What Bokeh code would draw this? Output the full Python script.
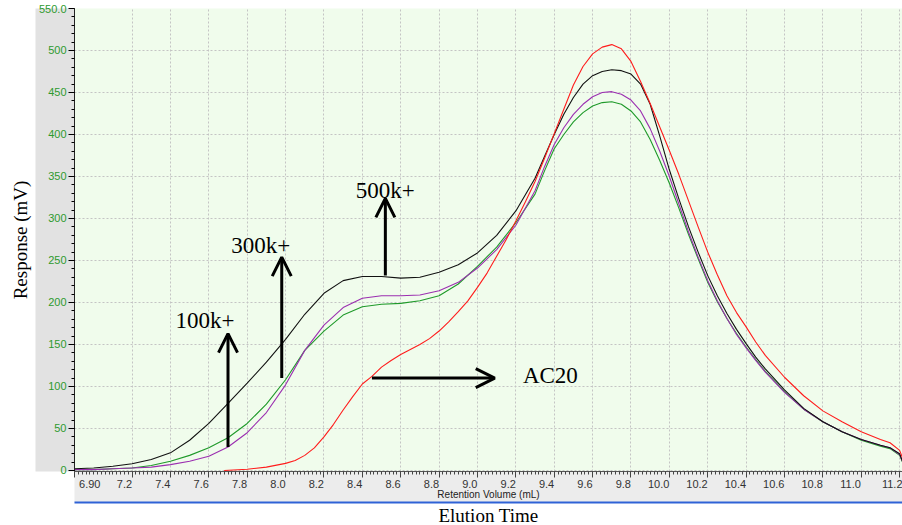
from bokeh.plotting import figure
from bokeh.models import (Range1d, FixedTicker, Arrow, OpenHead, Label, LinearAxis,
                          Title, AllLabels)
from bokeh.embed import file_html
from bokeh.resources import INLINE

# ---- chromatogram data: retention volume (mL) vs detector response (mV) ----
vol = [6.90, 7.00, 7.10, 7.20, 7.30, 7.40, 7.50, 7.60, 7.70, 7.80, 7.90, 8.00,
       8.10, 8.20, 8.30, 8.40, 8.50, 8.60, 8.70, 8.80, 8.90, 9.00, 9.10, 9.20,
       9.30, 9.35, 9.40, 9.45, 9.50, 9.55, 9.60, 9.65, 9.70, 9.75, 9.80, 9.85,
       9.90, 9.95, 10.00, 10.05, 10.10, 10.15, 10.20, 10.25, 10.30, 10.35, 10.40,
       10.45, 10.50, 10.60, 10.70, 10.80, 10.90, 11.00, 11.10, 11.15, 11.20, 11.215]

black_trace = [2, 3, 5, 8, 13, 21, 36, 56, 80, 104, 129, 156,
               186, 211, 226, 231, 231, 229, 230, 236, 245, 259, 280, 309,
               348, 374, 400, 424, 444, 460, 470, 475, 477, 476, 472, 460,
               436, 398, 358, 323, 290, 260, 232, 208, 187, 168, 151,
               135, 121, 96, 74, 58, 46, 37, 30, 27, 20, 11]

purple_trace = [1, 1, 2, 3, 4, 7, 11, 17, 28, 45, 69, 102,
                143, 173, 194, 205, 208, 208, 209, 214, 224, 241, 263, 292,
                333, 362, 388, 408, 424, 436, 445, 450, 451, 448, 441, 428,
                407, 380, 350, 317, 284, 254, 226, 202, 181, 162, 146,
                131, 117, 93, 73, 58, 46, 37, 30, 27, 19, 11]

green_trace = [1, 1, 2, 3, 6, 11, 18, 27, 39, 56, 79, 108,
               143, 166, 185, 195, 198, 199, 202, 208, 222, 243, 266, 295,
               329, 357, 383, 400, 415, 426, 434, 438, 439, 436, 428, 415,
               394, 369, 342, 312, 281, 252, 224, 201, 181, 163, 147,
               132, 118, 94, 73, 58, 46, 36, 29, 26, 18, 10]

vol_ac20 = [7.68, 7.80, 7.90, 8.00, 8.05, 8.10, 8.15, 8.20, 8.25, 8.30, 8.35,
            8.40, 8.45, 8.50, 8.55, 8.60, 8.65, 8.70, 8.75, 8.80, 8.85, 8.90,
            8.95, 9.00, 9.05, 9.10, 9.15, 9.20, 9.25, 9.30, 9.35, 9.40, 9.45,
            9.50, 9.55, 9.60, 9.65, 9.70, 9.75, 9.80, 9.85, 9.90, 9.95, 10.00,
            10.05, 10.10, 10.15, 10.20, 10.25, 10.30, 10.35, 10.40, 10.45,
            10.50, 10.60, 10.70, 10.80, 10.90, 11.00, 11.10, 11.15, 11.20, 11.215]

ac20_trace = [0, 1.5, 4, 8.5, 12, 18, 27, 40, 55, 72, 88,
              103, 112, 123, 131, 138, 144, 150, 157, 166, 177, 189,
              202, 218, 235, 255, 275, 297, 320, 344, 372, 401, 430,
              459, 481, 496, 504, 507, 502, 487, 463, 437, 409, 381,
              352, 321, 290, 260, 233, 208, 188, 171, 153,
              137, 111, 89, 71, 58, 46, 37, 33, 24, 15]

# ---- axis ticks ----
x_start_label = "6.90"
x_ticks = [7.2, 7.4, 7.6, 7.8, 8.0, 8.2, 8.4, 8.6, 8.8, 9.0, 9.2, 9.4, 9.6,
           9.8, 10.0, 10.2, 10.4, 10.6, 10.8, 11.0, 11.2]
x_tick_labels = ["7.2", "7.4", "7.6", "7.8", "8.0", "8.2", "8.4", "8.6", "8.8",
                 "9.0", "9.2", "9.4", "9.6", "9.8", "10.0", "10.2", "10.4",
                 "10.6", "10.8", "11.0", "11.2"]
y_ticks = [0, 50, 100, 150, 200, 250, 300, 350, 400, 450, 500]
y_tick_labels = ["0", "50", "100", "150", "200", "250", "300", "350", "400",
                 "450", "500"]
y_top_label = "550.0"

# ---- plot geometry ----
W, H = 902, 525
FL, FR, FT, FB = 74, 902, 8, 471          # frame edges in canvas pixels
X0, X1 = 6.90, 11.215
Y0, Y1 = -1.2, 550.0

p = figure(width=W, height=H, output_backend="svg", toolbar_location=None,
           x_range=Range1d(X0, X1), y_range=Range1d(Y0, Y1),
           min_border_left=FL, min_border_right=W - FR,
           min_border_top=FT, min_border_bottom=H - FB,
           background_fill_color="#f0fcec", border_fill_color="white")
p.outline_line_color = None

NBSP = "\u00a0"


def pad_right(s):
    # trailing blanks of the label's own width: the label ends at its tick
    return s + NBSP * sum(2 if c.isdigit() else 1 for c in s)


# x axis (retention volume)
xa = p.xaxis[0]
xa.ticker = FixedTicker(ticks=[X0] + x_ticks,
                        minor_ticks=[round(X0 + 0.02 * k, 2) for k in range(216)])
overrides = {X0: NBSP * 10 + x_start_label}
overrides.update({t: pad_right(s) for t, s in zip(x_ticks[:-1], x_tick_labels[:-1])})
overrides[x_ticks[-1]] = x_tick_labels[-1]
xa.major_label_overrides = overrides
xa.major_label_policy = AllLabels()
xa.major_label_text_font = "Liberation Sans"
xa.major_label_text_font_size = "11px"
xa.major_label_text_color = "#333333"
xa.major_label_standoff = 0
xa.major_tick_out = 6
xa.major_tick_in = 0
xa.minor_tick_out = 3
xa.minor_tick_in = 0
xa.axis_line_color = "#555555"
xa.major_tick_line_color = "#444444"
xa.minor_tick_line_color = "#444444"
xa.axis_label = "Retention Volume (mL)"
xa.axis_label_text_font = "Liberation Sans"
xa.axis_label_text_font_size = "10px"
xa.axis_label_text_font_style = "normal"
xa.axis_label_text_color = "#222222"
xa.axis_label_standoff = -4

# y axis (response)
ya = p.yaxis[0]
ya.ticker = FixedTicker(ticks=y_ticks + [Y1], minor_ticks=list(range(0, 551, 10)))
yover = dict(zip(y_ticks, y_tick_labels))
yover[Y1] = y_top_label
ya.major_label_overrides = yover
ya.major_label_text_font = "Liberation Sans"
ya.major_label_text_font_size = "11px"
ya.major_label_text_color = "#2e9a2e"
ya.major_label_standoff = 2
ya.major_tick_out = 6
ya.major_tick_in = 0
ya.minor_tick_out = 3
ya.minor_tick_in = 0
ya.axis_line_color = "#222222"

# grey panels behind the axes
if "background_fill_color" in xa.properties():
    xa.background_fill_color = "#ececec"
    ya.background_fill_color = "#e2e2e2"

p.xgrid.ticker = FixedTicker(ticks=x_ticks)
p.ygrid.ticker = FixedTicker(ticks=y_ticks)
for grid in (p.xgrid, p.ygrid):
    grid.grid_line_color = "#c4c4c4"
    grid.grid_line_dash = "2 2"
    grid.grid_line_width = 1

# blue rule under the volume axis
rule = LinearAxis(ticker=FixedTicker(ticks=[]), major_tick_out=0, major_tick_in=0,
                  minor_tick_out=0, minor_tick_in=0, major_label_text_font_size="0px",
                  axis_line_color="#2f62d6", axis_line_width=2)
p.add_layout(rule, "below")

# outer titles
serif = "Liberation Serif"
p.add_layout(Title(text="Elution Time", align="center", text_font=serif,
                   text_font_size="19px", text_font_style="normal",
                   text_color="black", standoff=0), "below")
p.add_layout(Title(text="Response (mV)", align="center", text_font=serif,
                   text_font_size="19px", text_font_style="normal",
                   text_color="black", standoff=10), "left")

# traces
p.line(vol, green_trace, line_color="#1f9a2a", line_width=1.1)
p.line(vol, purple_trace, line_color="#9b2fb0", line_width=1.1)
p.line(vol, black_trace, line_color="#111111", line_width=1.1)
p.line(vol_ac20, ac20_trace, line_color="#ff1c1c", line_width=1.1)

# arrows marking the shoulders
arrow_specs = [(7.70, 28, 7.70, 163), (7.98, 110, 7.98, 254),
               (8.52, 232, 8.52, 324), (8.45, 110, 9.09, 110)]
for x_a, y_a, x_b, y_b in arrow_specs:
    p.add_layout(Arrow(end=OpenHead(size=19, line_width=3, line_color="black"),
                       x_start=x_a, y_start=y_a, x_end=x_b, y_end=y_b,
                       line_width=3, line_color="black"))

for txt, x_t, y_t in [("100k+", 7.58, 179), ("300k+", 7.87, 268),
                      ("500k+", 8.52, 333), ("AC20", 9.38, 113)]:
    p.add_layout(Label(x=x_t, y=y_t, text=txt, text_font=serif,
                       text_font_size="23px", text_color="black",
                       text_align="center", text_baseline="middle"))

open("out.html", "w").write(file_html(p, INLINE))
